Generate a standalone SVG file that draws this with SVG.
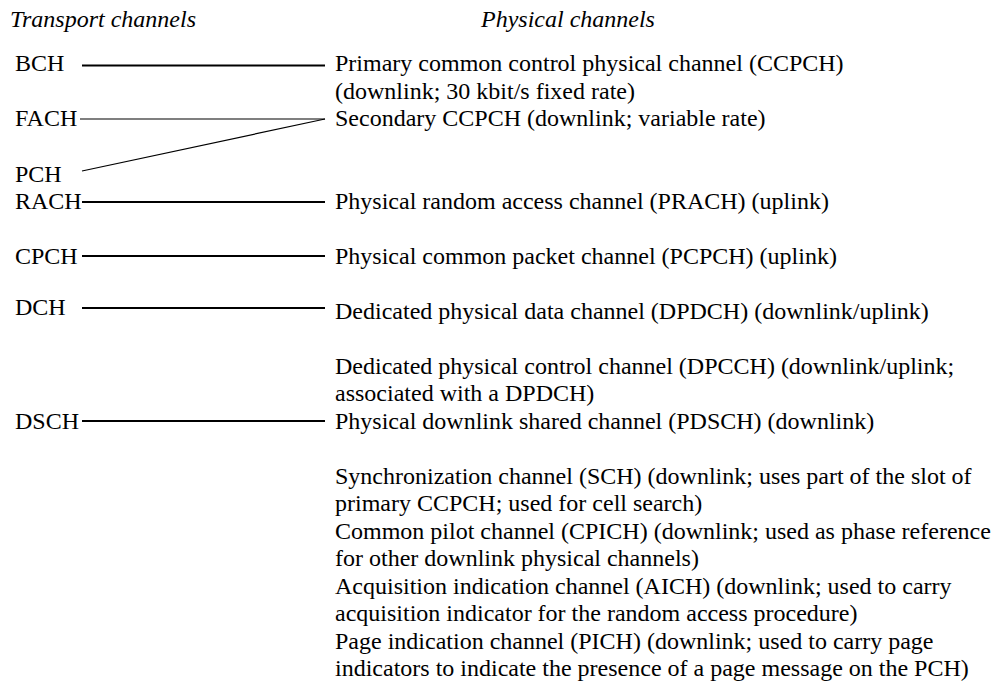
<svg xmlns="http://www.w3.org/2000/svg" width="995" height="684" viewBox="0 0 995 684">
  <style>
    text { font-family: "Liberation Serif", "Times New Roman", serif; font-size: 24px; fill: #000; }
    .head { font-style: italic; }
    .link { stroke: #000; stroke-width: 2; fill: none; }
    .thin { stroke-width: 1.2; }
  </style>
  <rect width="995" height="684" fill="#fff"/>

  <!-- column headings -->
  <g id="headings">
    <text class="head" x="10" y="27">Transport channels</text>
    <text class="head" x="481" y="27">Physical channels</text>
  </g>

  <!-- transport channels -->
  <g id="t-bch"><text x="15" y="71">BCH</text></g>
  <g id="t-fach"><text x="15" y="126">FACH</text></g>
  <g id="t-pch"><text x="15" y="182">PCH</text></g>
  <g id="t-rach"><text x="15" y="208.5">RACH</text></g>
  <g id="t-cpch"><text x="15" y="263.5">CPCH</text></g>
  <g id="t-dch"><text x="15" y="315">DCH</text></g>
  <g id="t-dsch"><text x="15" y="428.5">DSCH</text></g>

  <!-- physical channels -->
  <g id="p-ccpch">
    <text x="335" y="71">Primary common control physical channel (CCPCH)</text>
    <text x="335" y="98.5">(downlink; 30 kbit/s fixed rate)</text>
  </g>
  <g id="s-ccpch"><text x="335" y="126">Secondary CCPCH (downlink; variable rate)</text></g>
  <g id="prach"><text x="335" y="208.5">Physical random access channel (PRACH) (uplink)</text></g>
  <g id="pcpch"><text x="335" y="263.5">Physical common packet channel (PCPCH) (uplink)</text></g>
  <g id="dpdch"><text x="335" y="318.5">Dedicated physical data channel (DPDCH) (downlink/uplink)</text></g>
  <g id="dpcch">
    <text x="335" y="373.5">Dedicated physical control channel (DPCCH) (downlink/uplink;</text>
    <text x="335" y="401">associated with a DPDCH)</text>
  </g>
  <g id="pdsch"><text x="335" y="428.5">Physical downlink shared channel (PDSCH) (downlink)</text></g>
  <g id="sch">
    <text x="335" y="483.5">Synchronization channel (SCH) (downlink; uses part of the slot of</text>
    <text x="335" y="511">primary CCPCH; used for cell search)</text>
  </g>
  <g id="cpich">
    <text x="335" y="538.5">Common pilot channel (CPICH) (downlink; used as phase reference</text>
    <text x="335" y="566">for other downlink physical channels)</text>
  </g>
  <g id="aich">
    <text x="335" y="593.5">Acquisition indication channel (AICH) (downlink; used to carry</text>
    <text x="335" y="621">acquisition indicator for the random access procedure)</text>
  </g>
  <g id="pich">
    <text x="335" y="648.5">Page indication channel (PICH) (downlink; used to carry page</text>
    <text x="335" y="676">indicators to indicate the presence of a page message on the PCH)</text>
  </g>

  <!-- mappings between transport and physical channels -->
  <g id="connectors">
    <line class="link" x1="82" y1="65.5" x2="325" y2="65.5"/>
    <line class="link thin" x1="80" y1="119" x2="325" y2="119"/>
    <line class="link thin" x1="82" y1="171" x2="325" y2="119"/>
    <line class="link" x1="82" y1="202" x2="325" y2="202"/>
    <line class="link" x1="82" y1="256" x2="325" y2="256"/>
    <line class="link" x1="82" y1="308" x2="325" y2="308"/>
    <line class="link" x1="82" y1="421" x2="325" y2="421"/>
  </g>
</svg>
